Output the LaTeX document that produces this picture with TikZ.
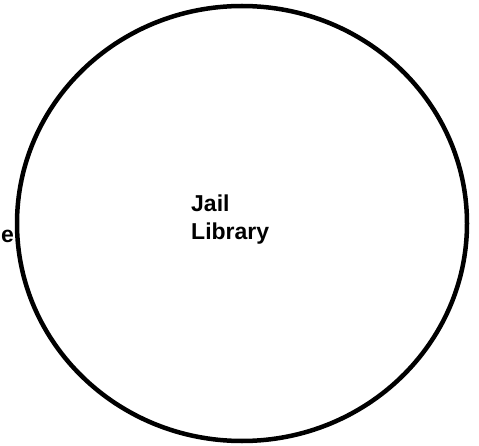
\documentclass[tikz,border=0pt]{standalone}
\usepackage{fontspec}
\setmainfont{Liberation Sans}
\begin{document}
\begin{tikzpicture}[x=1pt,y=1pt,
  lbl/.style={font=\bfseries\fontsize{23}{28}\selectfont, inner sep=0pt, align=left}]
\useasboundingbox (0,0) rectangle (479,445);
\draw[line width=4.5pt] (242,221.5) ellipse [x radius=225, y radius=217.5];
\node[lbl, anchor=north west] (jail) at (191,250) {Jail\\Library};
\node[lbl, anchor=base east] (e) at (14,203) {e};
\end{tikzpicture}
\end{document}
